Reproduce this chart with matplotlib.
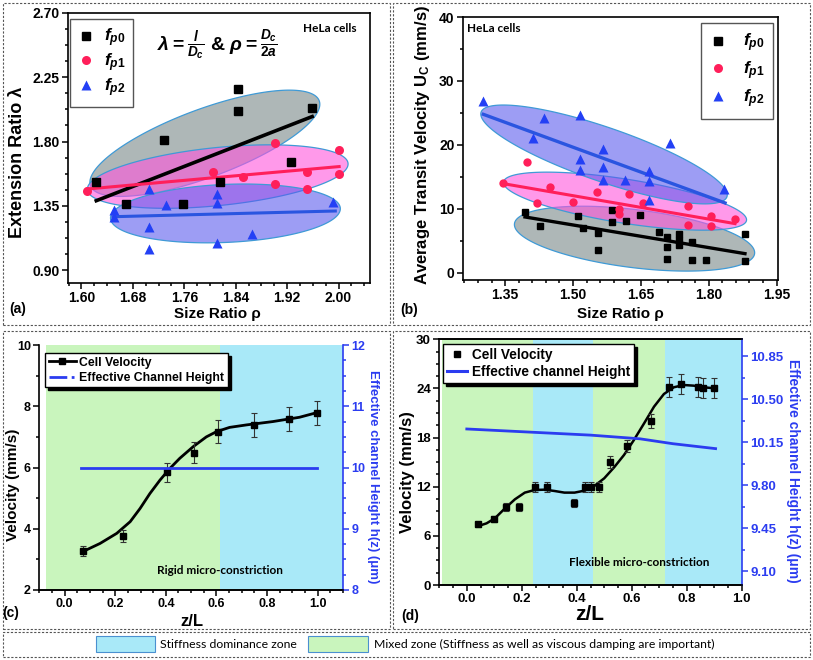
import numpy as np
import matplotlib
matplotlib.use('Agg')
import matplotlib.pyplot as plt
from matplotlib.patches import Rectangle, Polygon
from matplotlib.lines import Line2D
from matplotlib.ticker import MultipleLocator, FormatStrFormatter
from matplotlib.colors import to_rgba

# ---------------- data ----------------
# (a) extension ratio vs size ratio
a_p0_x = [1.623, 1.670, 1.729, 1.758, 1.815, 1.843, 1.843, 1.926, 1.958]
a_p0_y = [1.519, 1.366, 1.808, 1.360, 1.519, 2.169, 2.017, 1.659, 2.034]
a_p1_x = [1.608, 1.804, 1.852, 1.901, 1.901, 1.951, 1.951, 2.000, 2.000]
a_p1_y = [1.454, 1.590, 1.550, 1.793, 1.503, 1.590, 1.470, 1.742, 1.571]
a_p2_x = [1.650, 1.650, 1.705, 1.705, 1.705, 1.731, 1.811, 1.811, 1.811, 1.865, 1.992]
a_p2_y = [1.321, 1.274, 1.468, 1.204, 1.047, 1.356, 1.433, 1.367, 1.092, 1.152, 1.374]
a_fit_x = {'p0': [1.623, 1.959], 'p1': [1.609, 2.001], 'p2': [1.649, 1.995]}
a_fit_y = {'p0': [1.386, 1.975], 'p1': [1.468, 1.625], 'p2': [1.274, 1.314]}

# (b) average transit velocity vs size ratio
b_p0_x = [1.394, 1.427, 1.510, 1.523, 1.555, 1.555, 1.586, 1.586, 1.617, 1.647, 1.689,
          1.707, 1.707, 1.707, 1.735, 1.735, 1.735, 1.764, 1.764, 1.794, 1.880, 1.880]
b_p0_y = [9.53, 7.34, 8.91, 7.03, 6.25, 3.54, 9.90, 7.97, 8.13, 9.01, 6.41,
          5.63, 4.06, 2.24, 6.04, 5.10, 4.43, 4.84, 1.98, 2.08, 6.15, 1.87]
b_p1_x = [1.346, 1.399, 1.449, 1.420, 1.501, 1.552, 1.624, 1.602, 1.602, 1.654,
          1.755, 1.755, 1.806, 1.806, 1.858]
b_p1_y = [14.06, 17.34, 13.44, 10.99, 11.09, 12.66, 12.40, 10.05, 9.27, 10.99,
          10.42, 7.45, 8.85, 7.29, 8.49]
b_p2_x = [1.302, 1.436, 1.516, 1.411, 1.567, 1.516, 1.516, 1.567, 1.567, 1.616,
          1.667, 1.667, 1.714, 1.667, 1.834]
b_p2_y = [26.88, 24.22, 24.74, 21.09, 19.43, 17.76, 16.15, 16.56, 14.58, 14.58,
          15.89, 14.38, 20.36, 11.46, 13.07]
b_fit_x = {'p0': [1.394, 1.880], 'p1': [1.346, 1.858], 'p2': [1.302, 1.836]}
b_fit_y = {'p0': [8.75, 3.02], 'p1': [13.96, 7.71], 'p2': [24.79, 10.94]}

# (c) rigid micro-constriction
c_z = [0.071, 0.232, 0.403, 0.512, 0.606, 0.747, 0.888, 0.996]
c_v = [3.27, 3.77, 5.84, 6.48, 7.17, 7.39, 7.58, 7.79]
c_err = [0.16, 0.19, 0.30, 0.34, 0.37, 0.38, 0.38, 0.39]
c_fit_z = [0.071, 0.140, 0.206, 0.259, 0.298, 0.337, 0.377, 0.416, 0.455, 0.508,
           0.560, 0.600, 0.652, 0.718, 0.823, 0.928, 0.996]
c_fit_v = [3.25, 3.52, 3.85, 4.23, 4.66, 5.15, 5.59, 5.97, 6.30, 6.68,
           7.00, 7.17, 7.31, 7.39, 7.50, 7.64, 7.79]
c_h_z = [0.066, 0.998]
c_h = [10.0, 10.0]
c_mixed = [(-0.075, 0.613)]
c_stiff = [(0.613, 1.1)]

# (d) flexible micro-constriction
d_z = [0.042, 0.100, 0.142, 0.189, 0.248, 0.292, 0.389, 0.431, 0.452, 0.482,
       0.522, 0.584, 0.671, 0.736, 0.778, 0.841, 0.861, 0.901]
d_v = [7.41, 8.02, 9.57, 9.48, 12.01, 12.01, 10.05, 12.01, 12.01, 12.01,
       15.06, 16.97, 20.03, 24.14, 24.55, 24.14, 24.02, 24.02]
d_err = [0.3, 0.35, 0.5, 0.5, 0.6, 0.6, 0.5, 0.6, 0.6, 0.6,
         0.75, 0.7, 0.9, 1.2, 1.2, 1.2, 1.2, 1.2]
d_fit_z = [0.042, 0.072, 0.102, 0.139, 0.175, 0.211, 0.247, 0.283, 0.319, 0.355,
           0.392, 0.428, 0.464, 0.500, 0.536, 0.572, 0.608, 0.645, 0.681, 0.717,
           0.753, 0.789, 0.825, 0.861, 0.901]
d_fit_v = [7.20, 7.53, 8.14, 9.36, 10.46, 11.28, 11.60, 11.64, 11.48, 11.28,
           11.28, 11.52, 12.09, 13.03, 14.37, 15.88, 17.71, 19.74, 21.77, 23.32,
           24.14, 24.42, 24.34, 24.14, 24.02]
d_h_z = [0.0, 0.45, 0.63, 0.75, 0.905]
d_h = [10.26, 10.21, 10.18, 10.14, 10.10]
d_mixed = [(-0.09, 0.24), (0.458, 0.72)]
d_stiff = [(0.24, 0.458), (0.72, 1.0)]

# ---------------- style ----------------
W, H = 813, 660
plt.rcParams['font.family'] = ['Liberation Sans', 'DejaVu Sans']
plt.rcParams['font.weight'] = 'bold'
plt.rcParams['axes.labelweight'] = 'bold'
plt.rcParams['mathtext.fontset'] = 'custom'
plt.rcParams['mathtext.it'] = 'Liberation Sans:italic:bold'
plt.rcParams['mathtext.rm'] = 'Liberation Sans:bold'
plt.rcParams['mathtext.bf'] = 'Liberation Sans:bold'

GREEN = '#c9f5bd'
CYAN = '#a9e9f8'
HBLUE = '#2b3cf0'
RED = '#ff1f5a'
TRI = '#2340f5'

fig = plt.figure(figsize=(W / 100, H / 100), dpi=100)


def rect(x0, y0, x1, y1):
    # figure pixels, y measured from the top
    return [x0 / W, 1 - y1 / H, (x1 - x0) / W, (y1 - y0) / H]


def fpos(x, y):
    return x / W, 1 - y / H


def blob(ax, cx, cy, a, b, ang, color, alpha=0.6):
    # ellipse drawn in screen pixels around a data centre
    c = ax.transData.transform((cx, cy))
    t = np.linspace(0, 2 * np.pi, 200)
    th = np.radians(ang)
    px = c[0] + a * np.cos(t) * np.cos(th) - b * np.sin(t) * np.sin(th)
    py = c[1] + a * np.cos(t) * np.sin(th) + b * np.sin(t) * np.cos(th)
    pts = ax.transData.inverted().transform(np.column_stack([px, py]))
    ax.add_patch(Polygon(pts, closed=True, fc=to_rgba(color, alpha),
                         ec='#3f9ad6', lw=0.9, zorder=1))


def style(ax, size=10):
    ax.tick_params(which='both', direction='out', labelsize=size, width=1.1, pad=1.5)
    ax.tick_params(which='major', length=4.5)
    ax.tick_params(which='minor', length=2.5)
    for s in ax.spines.values():
        s.set_linewidth(1.2)


def label_at(axis, x, y):
    axis.label.set_verticalalignment('center')
    axis.set_label_coords(*fpos(x, y), transform=fig.transFigure)


# ---------------- (a) ----------------
ax = fig.add_axes(rect(68, 13, 370, 283))
ax.set_xlim(1.579, 2.049)
ax.set_ylim(0.81, 2.70)
ax.xaxis.set_major_locator(MultipleLocator(0.08))
ax.xaxis.set_minor_locator(MultipleLocator(0.02))
ax.yaxis.set_major_locator(MultipleLocator(0.45))
ax.yaxis.set_minor_locator(MultipleLocator(0.1125))
ax.xaxis.set_major_formatter(FormatStrFormatter('%.2f'))
ax.yaxis.set_major_formatter(FormatStrFormatter('%.2f'))
ax.tick_params(top=False, right=False)
style(ax, 10)
blob(ax, 1.792, 1.788, 122, 34, 20.4, '#788888')
blob(ax, 1.812, 1.555, 131, 29, 5.8, '#ff55dd')
blob(ax, 1.824, 1.297, 115, 29, 2.5, '#5c5cee')
ax.plot(a_fit_x['p0'], a_fit_y['p0'], color='black', lw=2.6, zorder=3)
ax.plot(a_fit_x['p1'], a_fit_y['p1'], color=RED, lw=2.2, zorder=3)
ax.plot(a_fit_x['p2'], a_fit_y['p2'], color='#2a55e0', lw=2.2, zorder=3)
ax.plot(a_p0_x, a_p0_y, 's', color='black', ms=6, zorder=4)
ax.plot(a_p1_x, a_p1_y, 'o', color=RED, ms=6.5, mec='none', zorder=4)
ax.plot(a_p2_x, a_p2_y, '^', color=TRI, ms=7, mec='none', zorder=4)
ax.set_ylabel('Extension Ratio λ', fontsize=13)
label_at(ax.yaxis, 17, 162)
ax.set_xlabel('Size Ratio ρ', fontsize=11)
label_at(ax.xaxis, 217, 314)
handles = [Line2D([], [], ls='none', marker='s', color='black', ms=5.5),
           Line2D([], [], ls='none', marker='o', color=RED, mec='none', ms=6.5),
           Line2D([], [], ls='none', marker='^', color=TRI, mec='none', ms=7)]
leg = ax.legend(handles, ['$f_{p0}$', '$f_{p1}$', '$f_{p2}$'], loc='upper left',
                bbox_to_anchor=(0.007, 0.978), borderaxespad=0, fontsize=12.5,
                frameon=True, fancybox=False, edgecolor='#555555', framealpha=1,
                handlelength=0.9, handletextpad=0.6, labelspacing=0.12, borderpad=0.45)
leg.get_frame().set_linewidth(1.0)
fig.text(*fpos(217, 45), r'$\lambda = \frac{l}{D_c}$ & $\rho = \frac{D_c}{2a}$', fontsize=14,
         ha='center', va='center')
fig.text(*fpos(330, 29), 'HeLa cells', family='Lato', fontsize=8.5, ha='center', va='center')
fig.text(*fpos(18, 309), '(a)', fontsize=10, ha='center', va='center')

# ---------------- (b) ----------------
ax = fig.add_axes(rect(463, 17, 778, 280))
ax.set_xlim(1.257, 1.953)
ax.set_ylim(-1.1, 40)
ax.xaxis.set_major_locator(MultipleLocator(0.15))
ax.xaxis.set_minor_locator(MultipleLocator(0.03))
ax.yaxis.set_major_locator(MultipleLocator(10))
ax.yaxis.set_minor_locator(MultipleLocator(5))
ax.xaxis.set_major_formatter(FormatStrFormatter('%.2f'))
ax.tick_params(top=False, right=False)
style(ax, 10)
blob(ax, 1.636, 5.36, 121, 29, -7.1, '#788888')
blob(ax, 1.615, 11.22, 123, 22, -9.0, '#ff55dd')
blob(ax, 1.5686, 18.52, 130, 27, -19.0, '#5c5cee')
ax.plot(b_fit_x['p0'], b_fit_y['p0'], color='black', lw=2.4, zorder=3)
ax.plot(b_fit_x['p1'], b_fit_y['p1'], color=RED, lw=2.2, zorder=3)
ax.plot(b_fit_x['p2'], b_fit_y['p2'], color='#2a55e0', lw=2.4, zorder=3)
ax.plot(b_p0_x, b_p0_y, 's', color='black', ms=5, zorder=4)
ax.plot(b_p1_x, b_p1_y, 'o', color=RED, ms=6, mec='none', zorder=4)
ax.plot(b_p2_x, b_p2_y, '^', color=TRI, ms=6.5, mec='none', zorder=4)
ax.set_ylabel(r'Average Transit Velocity U$_\mathregular{C}$ (mm/s)', fontsize=12)
label_at(ax.yaxis, 422, 145)
ax.set_xlabel('Size Ratio ρ', fontsize=11)
label_at(ax.xaxis, 620, 314)
leg = ax.legend(handles, ['$f_{p0}$', '$f_{p1}$', '$f_{p2}$'], loc='upper right',
                bbox_to_anchor=(0.985, 0.977), borderaxespad=0, fontsize=12.5,
                frameon=True, fancybox=False, edgecolor='#555555', framealpha=1,
                handlelength=0.9, handletextpad=1.0, labelspacing=0.3, borderpad=0.5)
leg.get_frame().set_linewidth(1.0)
fig.text(*fpos(494, 29), 'HeLa cells', family='Lato', fontsize=8.5, ha='center', va='center')
fig.text(*fpos(409, 310), '(b)', fontsize=10, ha='center', va='center')

# ---------------- (c) ----------------
ax = fig.add_axes(rect(39.3, 345, 343, 590))
ax.set_xlim(-0.1, 1.1)
ax.set_ylim(2, 10)
for lo, hi in c_mixed:
    ax.axvspan(lo, hi, color=GREEN, lw=0, zorder=0)
for lo, hi in c_stiff:
    ax.axvspan(lo, hi, color=CYAN, lw=0, zorder=0)
ax.xaxis.set_major_locator(MultipleLocator(0.2))
ax.xaxis.set_minor_locator(MultipleLocator(0.05))
ax.yaxis.set_major_locator(MultipleLocator(2))
ax.yaxis.set_minor_locator(MultipleLocator(1))
ax.xaxis.set_major_formatter(FormatStrFormatter('%.1f'))
style(ax, 9)
ax.tick_params(top=False, right=False)
ax.spines['top'].set_visible(False)
ax.spines['right'].set_visible(False)
ax.plot(c_fit_z, c_fit_v, color='black', lw=2.0, zorder=3)
ax.errorbar(c_z, c_v, yerr=c_err, fmt='s', color='black', ms=4.5, ecolor='#333333',
            elinewidth=0.8, capsize=2.5, capthick=0.8, zorder=4)
ax.set_ylabel('Velocity (mm/s)', fontsize=11)
label_at(ax.yaxis, 13, 485)
ax.set_xlabel('z/L', fontsize=12)
label_at(ax.xaxis, 192, 622)
ax2 = ax.twinx()
ax2.set_ylim(8, 12)
ax2.yaxis.set_major_locator(MultipleLocator(1))
ax2.yaxis.set_minor_locator(MultipleLocator(0.25))
style(ax2, 9)
ax2.spines['top'].set_visible(False)
ax2.spines['left'].set_visible(False)
ax2.spines['right'].set_color(HBLUE)
ax2.tick_params(axis='y', colors=HBLUE, which='both')
ax2.plot(c_h_z, c_h, color=HBLUE, lw=2.0, zorder=3)
ax2.set_ylabel('Effective channel Height h(z) (μm)', fontsize=9.5, color=HBLUE,
               rotation=270)
label_at(ax2.yaxis, 373, 477)
h_c = [Line2D([], [], color='black', lw=2.0, marker='s', ms=4),
       Line2D([], [], color=HBLUE, lw=2.0, ls='-.')]
leg = ax2.legend(h_c, ['Cell Velocity', 'Effective Channel Height'], loc='upper left',
                 bbox_to_anchor=(0.019, 0.967), borderaxespad=0, fontsize=8.8,
                 frameon=True, fancybox=False, edgecolor='black', framealpha=1,
                 shadow={'color': 'black', 'alpha': 1}, handlelength=2.2,
                 handletextpad=0.3, labelspacing=0.25, borderpad=0.3)
fig.text(*fpos(220, 570), 'Rigid micro-constriction', family='Lato', fontsize=8.5,
         ha='center', va='center')
fig.text(*fpos(11, 613), '(c)', fontsize=10, ha='center', va='center')

# ---------------- (d) ----------------
ax = fig.add_axes(rect(439.3, 339.3, 741.7, 585))
ax.set_xlim(-0.1, 1.0)
ax.set_ylim(0, 30)
for lo, hi in d_mixed:
    ax.axvspan(lo, hi, color=GREEN, lw=0, zorder=0)
for lo, hi in d_stiff:
    ax.axvspan(lo, hi, color=CYAN, lw=0, zorder=0)
ax.xaxis.set_major_locator(MultipleLocator(0.2))
ax.xaxis.set_minor_locator(MultipleLocator(0.05))
ax.yaxis.set_major_locator(MultipleLocator(6))
ax.yaxis.set_minor_locator(MultipleLocator(1.5))
ax.xaxis.set_major_formatter(FormatStrFormatter('%.1f'))
style(ax, 9.5)
ax.tick_params(top=False, right=False)
ax.spines['right'].set_visible(False)
ax.plot(d_fit_z, d_fit_v, color='black', lw=1.8, zorder=3)
ax.errorbar(d_z, d_v, yerr=d_err, fmt='s', color='black', ms=4.5, ecolor='#333333',
            elinewidth=0.8, capsize=2.5, capthick=0.8, zorder=4)
ax.set_ylabel('Velocity (mm/s)', fontsize=12)
label_at(ax.yaxis, 407, 472)
ax.set_xlabel('z/L', fontsize=15)
label_at(ax.xaxis, 590, 614)
ax2 = ax.twinx()
ax2.set_ylim(8.99, 10.99)
ax2.set_yticks([9.10, 9.45, 9.80, 10.15, 10.50, 10.85])
ax2.yaxis.set_minor_locator(MultipleLocator(0.175))
ax2.yaxis.set_major_formatter(FormatStrFormatter('%.2f'))
style(ax2, 9.5)
ax2.spines['left'].set_visible(False)
ax2.spines['right'].set_color(HBLUE)
ax2.tick_params(axis='y', colors=HBLUE, which='both')
ax2.plot(d_h_z, d_h, color=HBLUE, lw=2.0, zorder=3)
ax2.set_ylabel('Effective channel Height h(z) (μm)', fontsize=10, color=HBLUE,
               rotation=270)
label_at(ax2.yaxis, 793, 471)
h_d = [Line2D([], [], color='black', ls='none', marker='s', ms=4.5),
       Line2D([], [], color=HBLUE, lw=2.2)]
leg = ax2.legend(h_d, ['Cell Velocity', 'Effective channel Height'], loc='upper left',
                 bbox_to_anchor=(0.012, 0.981), borderaxespad=0, fontsize=9.8,
                 frameon=True, fancybox=False, edgecolor='black', framealpha=1,
                 shadow={'color': 'black', 'alpha': 1}, handlelength=1.5,
                 handletextpad=0.3, labelspacing=0.2, borderpad=0.3)
fig.text(*fpos(639, 563), 'Flexible micro-constriction', family='Lato', fontsize=8.5,
         ha='center', va='center')
fig.text(*fpos(410, 616), '(d)', fontsize=10, ha='center', va='center')

# ---------------- panel frames and zone key ----------------
frame = dict(fill=False, ls=(0, (2, 1.5)), lw=0.8, ec='#555555', transform=fig.transFigure)
for x0, y0, x1, y1 in [(3, 3, 390, 325), (393, 3, 810, 325),
                       (3, 331, 390, 629), (393, 331, 810, 629), (3, 632, 810, 657)]:
    r = rect(x0, y0, x1, y1)
    fig.add_artist(Rectangle((r[0], r[1]), r[2], r[3], **frame))

r = rect(96, 636, 155, 652)
fig.add_artist(Rectangle((r[0], r[1]), r[2], r[3], fc=CYAN, ec='#4a90d0', lw=0.8,
                         transform=fig.transFigure))
fig.text(*fpos(160, 644), 'Stiffness dominance zone', family='Lato', fontweight='normal',
         fontsize=8.8, ha='left', va='center')
r = rect(308, 636, 368, 652)
fig.add_artist(Rectangle((r[0], r[1]), r[2], r[3], fc=GREEN, ec='#4a90d0', lw=0.8,
                         transform=fig.transFigure))
fig.text(*fpos(374, 644), 'Mixed zone (Stiffness as well as viscous damping are important)',
         family='Lato', fontweight='normal', fontsize=8.8, ha='left', va='center')

fig.savefig('out.png', dpi=100)
